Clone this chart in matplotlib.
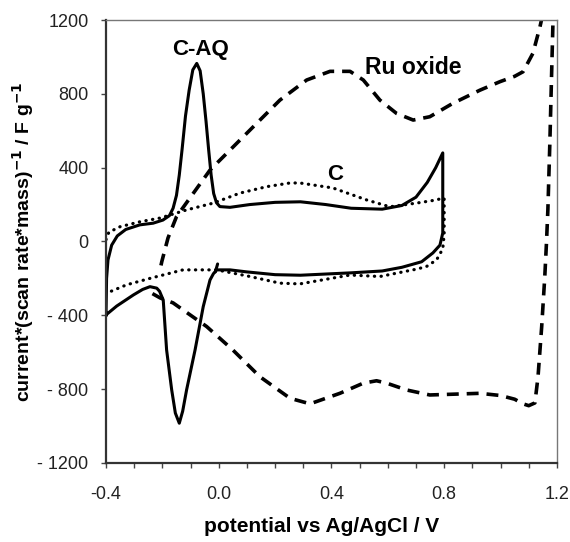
import matplotlib
matplotlib.use("Agg")
import matplotlib.pyplot as plt

plt.rcParams['font.family'] = ['Liberation Sans', 'DejaVu Sans']

# C-AQ (solid) cyclic voltammogram
caq_x = [-0.400, -0.398, -0.393, -0.380, -0.360, -0.330, -0.280, -0.233, -0.198, -0.175,
         -0.162, -0.150, -0.140, -0.130, -0.118, -0.105, -0.092, -0.078, -0.066, -0.055,
         -0.045, -0.036, -0.027, -0.018, -0.008, 0.004, 0.040, 0.110, 0.200,
         0.290, 0.380, 0.470, 0.580, 0.650, 0.700, 0.740, 0.770, 0.795, 0.795,
         0.795, 0.785, 0.760, 0.720, 0.650, 0.580, 0.470, 0.290, 0.200, 0.100,
         0.040, -0.007, -0.019, -0.031, -0.055, -0.084, -0.114, -0.128, -0.140, -0.154,
         -0.167, -0.185, -0.197, -0.210, -0.220, -0.244, -0.270, -0.303, -0.362, -0.400]
caq_y = [-400, -200, -100, -20, 30, 65, 90, 99, 116, 140,
         180, 250, 360, 500, 680, 820, 930, 965, 925, 800,
         650, 500, 360, 260, 210, 189, 185, 200, 212,
         215, 200, 180, 175, 195, 240, 320, 400, 480, 300,
         46, -20, -62, -110, -140, -160, -170, -183, -180, -165,
         -154, -154, -175, -209, -353, -588, -804, -920, -985, -930,
         -804, -588, -317, -270, -253, -245, -260, -290, -350, -398]

# start of the C-AQ scan (short stub near 0 V)
caq_start_x = [-0.004, -0.012]
caq_start_y = [-122, -165]

# C (dotted)
c_x = [-0.400, -0.390, -0.350, -0.279, -0.208, -0.114, -0.019, 0.075, 0.170, 0.253,
       0.288, 0.405, 0.525, 0.607, 0.702, 0.760, 0.800, 0.800, 0.795, 0.773,
       0.737, 0.702, 0.572, 0.466, 0.288, 0.217, 0.111, -0.007, -0.127, -0.244,
       -0.327, -0.398]
c_y = [10, 50, 80, 107, 127, 171, 208, 262, 297, 317,
       317, 290, 225, 188, 208, 222, 235, 40, -40, -100,
       -136, -150, -190, -182, -230, -226, -190, -154, -154, -200,
       -235, -280]

# Ru oxide (dashed)
ru_x = [-0.205, -0.202, -0.180, -0.150, -0.031, 0.217, 0.312, 0.395, 0.466, 0.513,
        0.572, 0.631, 0.690, 0.749, 0.830, 0.927, 0.998, 1.050, 1.080, 1.115,
        1.140, 1.160, 1.195, 1.186, 1.181, 1.175, 1.168, 1.163, 1.157, 1.146,
        1.133, 1.122, 1.100, 1.080, 1.050, 1.000, 0.927, 0.749, 0.667, 0.596,
        0.560, 0.513, 0.430, 0.324, 0.253, 0.146, 0.050, -0.043, -0.162, -0.208,
        -0.250]
ru_y = [-130, -109, 19, 134, 387, 766, 875, 922, 922, 875,
        766, 694, 658, 676, 748, 820, 866, 895, 920, 1020,
        1164, 1300, 1300, 1184, 893, 533, 171, -8, -192, -463,
        -734, -875, -890, -880, -855, -835, -823, -832, -805, -768,
        -755, -768, -823, -880, -850, -733, -588, -461, -333, -306,
        -270]

x_ticks = [-0.4, 0.0, 0.4, 0.8, 1.2]
x_tick_labels = ['-0.4', '0.0', '0.4', '0.8', '1.2']
y_ticks = [-1200, -800, -400, 0, 400, 800, 1200]
y_tick_labels = ['- 1200', '- 800', '- 400', '0', '400', '800', '1200']

fig = plt.figure(figsize=(5.7, 5.42), dpi=100)
ax = fig.add_axes([0.186, 0.146, 0.791, 0.817])

ax.plot(caq_x, caq_y, color='black', lw=2.2, solid_joinstyle='round')
ax.plot(caq_start_x, caq_start_y, color='black', lw=2.2, solid_capstyle='round')
ax.plot(c_x, c_y, color='black', lw=2.3, linestyle=(0, (0.1, 2.0)),
        dash_capstyle='round')
ax.plot(ru_x, ru_y, color='black', lw=2.6, linestyle=(0, (3.3, 2.2)))

ax.set_xlim(-0.4, 1.2)
ax.set_ylim(-1200, 1200)
ax.set_xticks(x_ticks)
ax.set_xticklabels(x_tick_labels)
ax.set_xticks([i / 10 for i in range(-4, 13)], minor=True)
ax.set_yticks(y_ticks)
ax.set_yticklabels(y_tick_labels)

ax.tick_params(axis='both', which='both', direction='out', length=3.6, width=1,
               color='#444444', labelsize=13, labelcolor='#222222')
ax.tick_params(axis='x', which='major', pad=13)
ax.tick_params(axis='y', which='major', pad=9)

for side in ['left', 'bottom']:
    ax.spines[side].set_linewidth(1.6)
    ax.spines[side].set_color('#333333')
for side in ['top', 'right']:
    ax.spines[side].set_linewidth(1.0)
    ax.spines[side].set_color('#777777')

ax.set_xlabel('potential vs Ag/AgCl / V', fontsize=15, fontweight='bold', labelpad=10)
ax.xaxis.label.set_x(0.477)
ax.set_ylabel('current*(scan rate*mass)$^{\\mathbf{-1}}$ / F g$^{\\mathbf{-1}}$',
              fontsize=14, fontweight='bold', labelpad=1)

ax.text(-0.063, 1043, 'C-AQ', fontsize=16, fontweight='bold', ha='center', va='center')
ax.text(0.689, 945, 'Ru oxide', fontsize=16.5, fontweight='bold', ha='center', va='center')
ax.text(0.412, 363, 'C', fontsize=16, fontweight='bold', ha='center', va='center')

fig.savefig('out.png', dpi=100)
